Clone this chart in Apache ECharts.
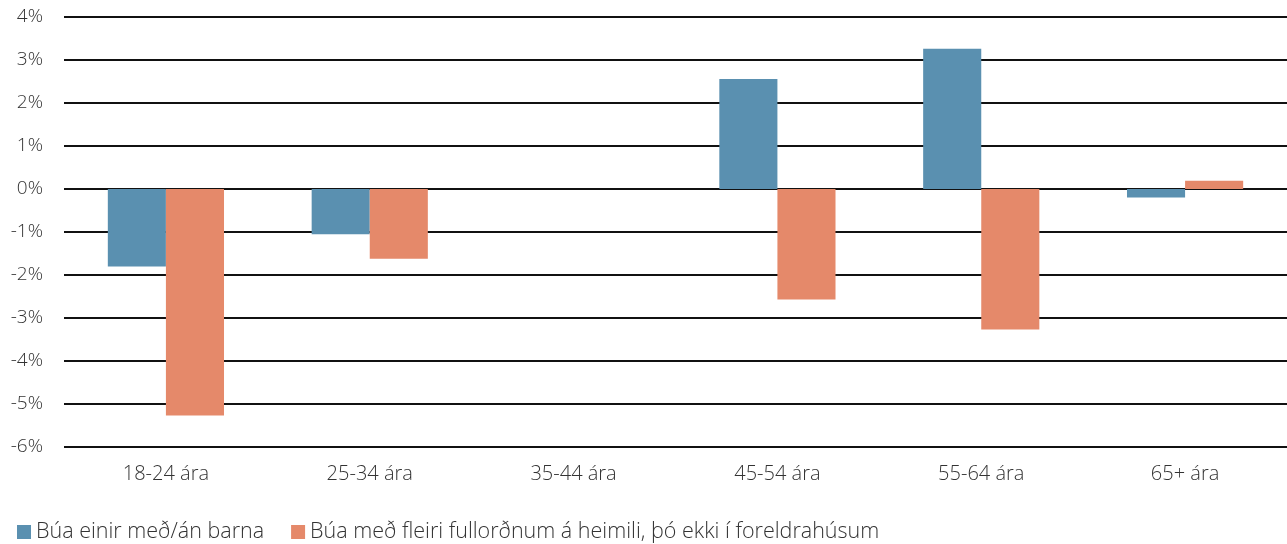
<!DOCTYPE html>
<html>
<head>
<meta charset="utf-8">
<script src="https://cdn.jsdelivr.net/npm/echarts@6/dist/echarts.min.js"></script>
<style>
  html, body { margin: 0; padding: 0; background: #fff; }
  #chart { width: 1287px; height: 544px; }
</style>
</head>
<body>
<div id="chart"></div>
<script>
// Age groups along the x axis
const categories = ['18-24 ára', '25-34 ára', '35-44 ára', '45-54 ára', '55-64 ára', '65+ ára'];
// Change in share, percentage points
const livingAlone = [-1.8, -1.05, 0, 2.56, 3.26, -0.2];
const livingWithAdults = [-5.27, -1.62, 0, -2.57, -3.27, 0.19];
const seriesNames = ['Búa einir með/án barna', 'Búa með fleiri fullorðnum á heimili, þó ekki í foreldrahúsum'];

const FONT = '"Open Sans", Lato, sans-serif';
const chart = echarts.init(document.getElementById('chart'));
chart.setOption({
  animation: false,
  grid: { left: 64, right: 0, top: 17, bottom: 97, containLabel: false },
  legend: {
    left: 12, top: 516,
    itemWidth: 14, itemHeight: 14, itemGap: 27,
    icon: 'rect',
    textStyle: { fontFamily: FONT, fontWeight: 300, fontSize: 21.5, color: '#333' },
    data: seriesNames
  },
  xAxis: {
    type: 'category',
    data: categories,
    axisLine: { show: false },
    axisTick: { show: false },
    axisLabel: { fontFamily: FONT, fontWeight: 300, fontSize: 20, color: '#333', margin: 17 }
  },
  yAxis: {
    type: 'value',
    min: -6, max: 4, interval: 1,
    axisLine: { show: false },
    axisTick: { show: false },
    axisLabel: { fontFamily: FONT, fontWeight: 300, fontSize: 19, color: '#333', margin: 21, formatter: v => v + '%' },
    splitLine: { lineStyle: { color: '#111', width: 2 } }
  },
  series: [
    { name: seriesNames[0], type: 'bar', data: livingAlone, itemStyle: { color: '#5a90b0' }, barGap: '0%', barCategoryGap: '43%' },
    { name: seriesNames[1], type: 'bar', data: livingWithAdults, itemStyle: { color: '#e5896a' } }
  ]
});
</script>
</body>
</html>
